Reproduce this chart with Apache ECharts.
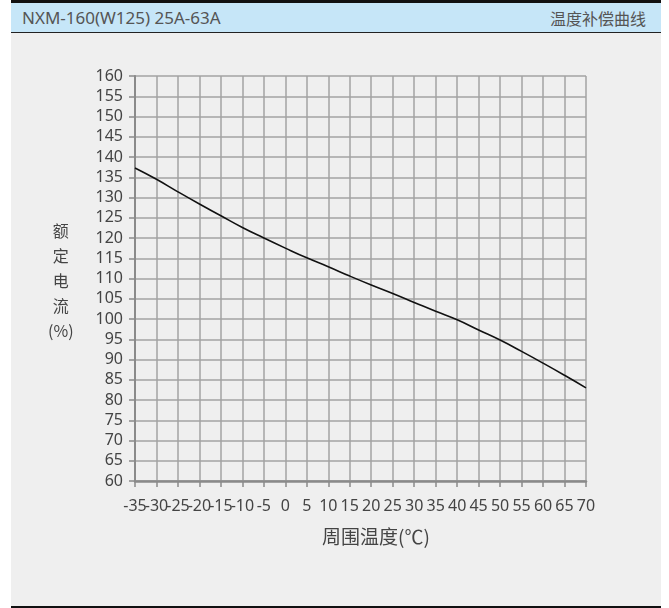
<!DOCTYPE html>
<html>
<head>
<meta charset="utf-8">
<script src="https://cdn.jsdelivr.net/npm/echarts@6/dist/echarts.min.js"></script>
<style>
html,body{margin:0;padding:0;background:#ffffff;width:669px;height:608px;overflow:hidden;}
#panel{position:absolute;left:11px;top:0;width:650px;height:608px;background:#efefef;}
#topline{position:absolute;left:11px;top:0;width:650px;height:3px;background:#111;}
#head{position:absolute;left:11px;top:3px;width:650px;height:30px;background:#c6e6f8;border-bottom:1.5px solid #222;box-sizing:border-box;}
#htl{position:absolute;left:11px;top:0;line-height:30px;font-family:'Noto Sans','Noto Sans CJK SC',sans-serif;font-size:17px;color:#555;}
#htr{position:absolute;right:15px;top:0;line-height:30px;font-family:'Noto Sans CJK SC','Noto Sans',sans-serif;font-size:16px;color:#555;}
#botline{position:absolute;left:11px;top:606px;width:650px;height:2px;background:#111;}
#chart{position:absolute;left:0;top:0;width:669px;height:608px;}
</style>
</head>
<body>
<div id="panel"></div>
<div id="topline"></div>
<div id="head"><span id="htl">NXM-160(W125) 25A-63A</span><span id="htr">温度补偿曲线</span></div>
<div id="botline"></div>
<div id="chart"></div>
<script>
const temps = [-35,-30,-25,-20,-15,-10,-5,0,5,10,15,20,25,30,35,40,45,50,55,60,65,70];
const ratedCurrent = [137.3,134.5,131.4,128.4,125.5,122.6,120.0,117.5,115.1,112.9,110.6,108.4,106.3,104.1,101.9,99.8,97.3,94.8,92.0,89.1,86.1,83.0];
const yAxisTitle = '额\n定\n电\n流\n(%)';
const xAxisTitle = '周围温度(℃)';

const chart = echarts.init(document.getElementById('chart'), null, {renderer:'canvas'});
const font = "'Noto Sans','Noto Sans CJK SC',sans-serif";
const axisGray = '#8a8a8a';
const gridGray = '#a3a3a3';
const xMin = -35, xMax = 70, xStep = 5;
const tickIndex = v => Math.round((v - xMin) / xStep);
const xLabelBase = {fontSize: 16, color: '#444', margin: 17, fontFamily: font, hideOverlap: false, showMinLabel: true, showMaxLabel: true};
chart.setOption({
  backgroundColor: 'transparent',
  animation: false,
  grid: {left: 135, right: 83, top: 76, bottom: 127, containLabel: false},
  xAxis: [{
    type: 'value', min: xMin, max: xMax, interval: xStep, position: 'bottom',
    axisLine: {show: true, onZero: false, lineStyle: {color: axisGray, width: 2.5}},
    axisTick: {show: true, length: 6, lineStyle: {color: axisGray, width: 1.5}},
    splitLine: {show: true, lineStyle: {color: gridGray, width: 1.5}},
    axisLabel: Object.assign({}, xLabelBase, {formatter: v => tickIndex(v) % 2 === 0 ? String(v) : ''}),
  }, {
    type: 'value', min: xMin, max: xMax, interval: xStep, position: 'bottom', offset: 0,
    axisLine: {show: false, onZero: false},
    axisTick: {show: false},
    splitLine: {show: false},
    axisLabel: Object.assign({}, xLabelBase, {formatter: v => tickIndex(v) % 2 === 1 ? String(v) : ''}),
  }],
  yAxis: {
    type: 'value', min: 60, max: 160, interval: 5,
    axisLine: {show: true, onZero: false, lineStyle: {color: axisGray, width: 2}},
    axisTick: {show: true, length: 6, lineStyle: {color: axisGray, width: 1.5}},
    splitLine: {show: true, lineStyle: {color: gridGray, width: 1.5}},
    axisLabel: {fontSize: 16, color: '#444', margin: 12, fontFamily: font, showMinLabel: true, showMaxLabel: true},
  },
  graphic: [
    {type: 'text', left: 48, top: 218, style: {text: yAxisTitle, lineHeight: 25, fill: '#444', textAlign: 'center', font: "16px 'Noto Sans CJK SC','Noto Sans',sans-serif"}},
    {type: 'text', left: 322, top: 527, style: {text: xAxisTitle, fill: '#444', font: "19px 'Noto Sans CJK SC','Noto Sans',sans-serif"}}
  ],
  series: [{
    type: 'line',
    xAxisIndex: 0,
    data: temps.map((t, i) => [t, ratedCurrent[i]]),
    smooth: true,
    symbol: 'none',
    lineStyle: {color: '#111', width: 1.6}
  }]
});
</script>
</body>
</html>
